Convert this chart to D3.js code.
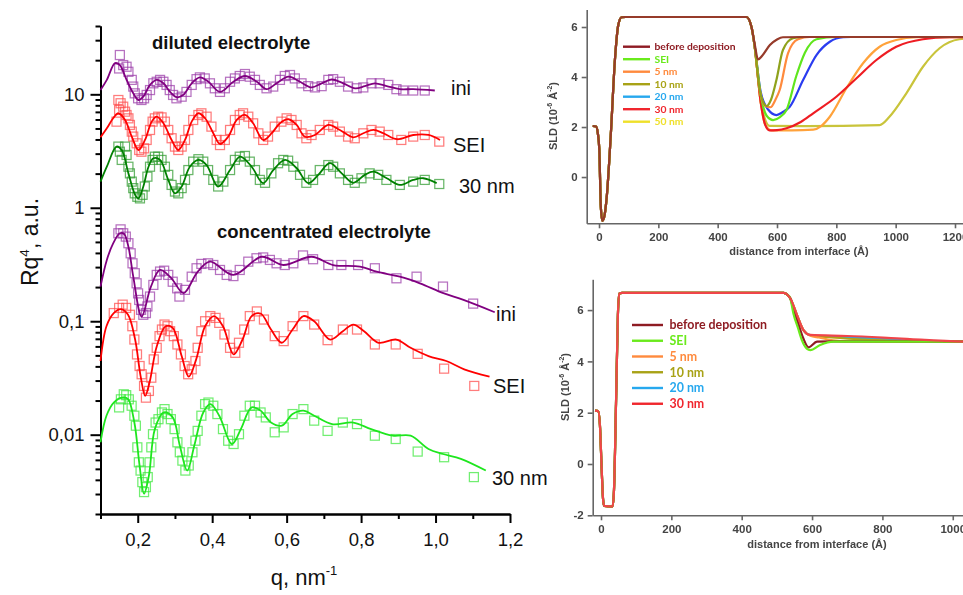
<!DOCTYPE html>
<html>
<head>
<meta charset="utf-8">
<script src="https://cdn.jsdelivr.net/npm/d3@7/dist/d3.min.js"></script>
<style>
  html, body { margin: 0; padding: 0; background: #fff; }
  svg { display: block; font-family: "Liberation Sans", Arial, sans-serif; }
</style>
</head>
<body>
<svg id="fig" width="963" height="595"></svg>
<script>
// ===== Reflectivity Rq^4 (a.u.) versus q (nm^-1) =====
// fitted curves: [q, Rq4]
const dilIniFit = [[0.100,10.9],[0.117,13.4],[0.139,18.8],[0.152,18.1],[0.170,13.4],[0.188,10.2],[0.202,8.91],[0.215,9.53],[0.233,12.1],[0.251,13.4],[0.269,12.5],[0.287,10.5],[0.305,9.42],[0.322,9.86],[0.345,12.5],[0.367,14.1],[0.390,12.9],[0.421,10.5],[0.457,12.9],[0.488,14.5],[0.520,12.9],[0.546,11.1],[0.573,12.5],[0.605,14.3],[0.636,12.9],[0.667,11.5],[0.694,12.5],[0.721,13.5],[0.752,12.5],[0.784,11.3],[0.810,11.8],[0.837,12.5],[0.869,11.8],[0.904,11.1],[0.940,11.1],[0.998,10.8]];
const dilSeiFit = [[0.100,4.18],[0.117,5.02],[0.134,6.15],[0.148,6.81],[0.166,5.94],[0.184,4.23],[0.202,3.23],[0.2195,3.96],[0.2375,5.74],[0.251,6.35],[0.269,5.56],[0.291,3.96],[0.309,3.23],[0.327,3.96],[0.345,5.74],[0.363,6.81],[0.381,6.15],[0.403,4.54],[0.421,3.65],[0.443,4.23],[0.466,5.94],[0.488,6.58],[0.510,5.56],[0.537,3.96],[0.560,4.54],[0.582,5.56],[0.605,6.03],[0.627,5.37],[0.649,4.23],[0.676,4.38],[0.712,5.37],[0.743,4.85],[0.779,4.18],[0.806,4.54],[0.833,4.85],[0.860,4.54],[0.896,4.02],[0.940,4.38],[0.981,4.38],[1.012,3.96]];
const dilThirtyFit = [[0.100,1.70],[0.117,2.30],[0.143,3.46],[0.157,3.23],[0.175,2.01],[0.193,1.30],[0.202,1.21],[0.215,1.54],[0.229,2.30],[0.242,2.73],[0.260,2.64],[0.282,1.76],[0.300,1.34],[0.318,1.54],[0.340,2.30],[0.363,2.64],[0.385,2.38],[0.416,1.54],[0.448,2.15],[0.475,2.82],[0.506,2.30],[0.537,1.65],[0.564,2.15],[0.596,2.64],[0.627,2.23],[0.658,1.65],[0.685,1.95],[0.716,2.47],[0.748,2.01],[0.779,1.66],[0.810,1.95],[0.833,2.08],[0.869,1.82],[0.904,1.59],[0.940,1.76],[0.967,1.82],[1.003,1.65]];
const concIniFit = [[0.100,0.202],[0.117,0.347],[0.134,0.486],[0.152,0.596],[0.163,0.590],[0.175,0.454],[0.188,0.247],[0.2106,0.110],[0.235,0.200],[0.260,0.283],[0.290,0.240],[0.323,0.177],[0.360,0.270],[0.394,0.335],[0.457,0.256],[0.533,0.370],[0.591,0.313],[0.667,0.370],[0.725,0.313],[0.797,0.303],[0.842,0.273],[0.904,0.247],[0.958,0.216],[1.021,0.177],[1.075,0.154],[1.159,0.120]];
const concSeiFit = [[0.100,0.0446],[0.116,0.0904],[0.1356,0.118],[0.155,0.128],[0.174,0.114],[0.193,0.069],[0.2076,0.033],[0.220,0.022],[0.2317,0.0288],[0.251,0.060],[0.275,0.0904],[0.294,0.0874],[0.318,0.0493],[0.337,0.0325],[0.357,0.0461],[0.381,0.0904],[0.405,0.111],[0.429,0.0904],[0.4575,0.051],[0.4815,0.069],[0.506,0.111],[0.530,0.117],[0.558,0.0845],[0.587,0.0646],[0.616,0.0845],[0.645,0.111],[0.674,0.100],[0.717,0.069],[0.751,0.0817],[0.779,0.0935],[0.808,0.0817],[0.847,0.0646],[0.895,0.069],[0.933,0.0583],[0.981,0.0493],[1.029,0.0446],[1.077,0.0377],[1.145,0.0325]];
const concThirtyFit = [[0.100,0.00858],[0.116,0.0147],[0.1356,0.0192],[0.160,0.0213],[0.174,0.0206],[0.191,0.0128],[0.205,0.00535],[0.217,0.00302],[0.230,0.00436],[0.246,0.0112],[0.270,0.0157],[0.294,0.0142],[0.313,0.00802],[0.333,0.00483],[0.352,0.00802],[0.376,0.0157],[0.395,0.0186],[0.419,0.0147],[0.453,0.00828],[0.477,0.0112],[0.506,0.0174],[0.530,0.0163],[0.558,0.0128],[0.587,0.0120],[0.616,0.0152],[0.645,0.0163],[0.674,0.0147],[0.722,0.0124],[0.779,0.0128],[0.827,0.0112],[0.885,0.0098],[0.933,0.0098],[0.981,0.00748],[1.020,0.00676],[1.068,0.00612],[1.135,0.00483]];

// measured points: [q, Rq4]
const dilIniPts = [[0.152,22.2],[0.150,16.9],[0.161,18.1],[0.170,17.5],[0.175,15.8],[0.184,13.4],[0.188,11.7],[0.192,10.2],[0.201,9.22],[0.210,8.91],[0.217,9.22],[0.224,9.87],[0.233,10.9],[0.242,12.5],[0.251,12.9],[0.260,13.4],[0.269,12.9],[0.2775,12.1],[0.286,10.9],[0.295,9.87],[0.304,9.22],[0.318,9.53],[0.331,10.5],[0.345,12.1],[0.358,13.6],[0.367,14.1],[0.380,13.8],[0.394,12.5],[0.407,11.3],[0.421,10.5],[0.434,11.3],[0.448,12.9],[0.461,13.8],[0.474,14.5],[0.488,15.1],[0.501,14.3],[0.515,13.4],[0.528,12.1],[0.546,11.3],[0.564,11.7],[0.582,13.4],[0.595,14.5],[0.609,14.8],[0.622,13.8],[0.640,12.5],[0.658,11.8],[0.676,11.5],[0.694,11.8],[0.712,13.4],[0.725,13.6],[0.743,12.9],[0.765,11.7],[0.788,11.3],[0.806,11.5],[0.828,12.5],[0.850,12.5],[0.873,12.1],[0.895,11.1],[0.913,10.8],[0.940,10.8],[0.971,10.8]];
const dilSeiPts = [[0.148,8.91],[0.150,7.28],[0.154,8.34],[0.161,7.78],[0.166,7.03],[0.170,6.57],[0.143,5.74],[0.175,6.14],[0.179,5.37],[0.184,4.69],[0.188,4.24],[0.197,3.70],[0.204,3.23],[0.210,3.12],[0.217,3.34],[0.224,3.96],[0.233,4.85],[0.240,5.74],[0.246,6.14],[0.255,6.35],[0.264,6.26],[0.273,5.74],[0.282,4.85],[0.291,4.10],[0.300,3.46],[0.309,3.23],[0.318,3.46],[0.327,3.96],[0.336,4.85],[0.349,5.94],[0.363,6.57],[0.371,6.80],[0.385,6.35],[0.398,5.19],[0.412,3.96],[0.421,3.57],[0.434,3.96],[0.448,4.85],[0.461,5.94],[0.474,6.57],[0.483,6.80],[0.497,6.35],[0.510,5.55],[0.524,4.53],[0.537,3.96],[0.550,4.24],[0.568,5.19],[0.586,5.74],[0.600,6.14],[0.613,5.94],[0.627,5.37],[0.640,4.53],[0.653,4.10],[0.667,4.38],[0.689,4.85],[0.712,5.37],[0.725,5.19],[0.743,4.69],[0.765,4.24],[0.783,4.10],[0.806,4.53],[0.828,4.85],[0.850,4.69],[0.873,4.38],[0.908,3.96],[0.940,4.24],[0.971,4.38],[1.010,3.83]];
const dilThirtyPts = [[0.148,3.46],[0.152,3.12],[0.157,2.64],[0.166,3.46],[0.170,2.92],[0.175,2.30],[0.179,2.01],[0.184,1.70],[0.188,1.49],[0.192,1.34],[0.199,1.25],[0.206,1.21],[0.213,1.30],[0.219,1.54],[0.226,1.88],[0.233,2.30],[0.240,2.64],[0.246,2.82],[0.255,2.82],[0.264,2.64],[0.273,2.30],[0.282,1.95],[0.291,1.59],[0.300,1.39],[0.309,1.34],[0.318,1.49],[0.327,1.76],[0.336,2.15],[0.349,2.55],[0.363,2.68],[0.376,2.55],[0.389,2.15],[0.403,1.76],[0.416,1.54],[0.430,1.70],[0.448,2.15],[0.461,2.64],[0.474,2.82],[0.488,2.86],[0.501,2.55],[0.515,2.15],[0.528,1.76],[0.542,1.66],[0.559,2.01],[0.577,2.47],[0.591,2.64],[0.604,2.60],[0.618,2.30],[0.636,1.95],[0.653,1.66],[0.671,1.76],[0.689,2.15],[0.712,2.38],[0.725,2.30],[0.743,2.01],[0.765,1.76],[0.783,1.66],[0.801,1.82],[0.823,2.01],[0.846,1.95],[0.868,1.76],[0.904,1.59],[0.940,1.70],[0.971,1.76],[1.010,1.62]];
const concIniPts = [[0.148,0.596],[0.154,0.645],[0.161,0.596],[0.168,0.557],[0.175,0.487],[0.181,0.397],[0.186,0.324],[0.192,0.265],[0.197,0.216],[0.201,0.176],[0.204,0.154],[0.209,0.126],[0.215,0.114],[0.222,0.118],[0.226,0.135],[0.233,0.165],[0.242,0.209],[0.251,0.256],[0.260,0.274],[0.271,0.279],[0.282,0.256],[0.294,0.223],[0.306,0.195],[0.312,0.165],[0.327,0.189],[0.345,0.247],[0.358,0.293],[0.371,0.320],[0.389,0.324],[0.403,0.313],[0.421,0.283],[0.439,0.256],[0.457,0.250],[0.474,0.283],[0.497,0.335],[0.519,0.359],[0.537,0.365],[0.555,0.347],[0.573,0.324],[0.595,0.313],[0.618,0.324],[0.644,0.380],[0.671,0.352],[0.712,0.313],[0.747,0.313],[0.792,0.313],[0.837,0.293],[0.895,0.239],[0.949,0.247],[1.020,0.202],[1.101,0.143]];
const concSeiPts = [[0.1356,0.118],[0.150,0.131],[0.1596,0.140],[0.169,0.131],[0.179,0.114],[0.1855,0.0904],[0.191,0.0690],[0.198,0.0510],[0.205,0.0403],[0.2105,0.0341],[0.217,0.0269],[0.222,0.0212],[0.230,0.0243],[0.2365,0.0318],[0.243,0.0461],[0.251,0.0583],[0.2586,0.0739],[0.265,0.0845],[0.272,0.0935],[0.280,0.0904],[0.287,0.0817],[0.297,0.0739],[0.3066,0.0624],[0.316,0.0510],[0.326,0.0403],[0.3355,0.0341],[0.345,0.0377],[0.355,0.0446],[0.361,0.0583],[0.371,0.0817],[0.381,0.1],[0.395,0.111],[0.409,0.107],[0.419,0.0967],[0.433,0.0764],[0.448,0.0583],[0.462,0.0527],[0.472,0.0646],[0.486,0.0845],[0.501,0.111],[0.520,0.122],[0.539,0.1035],[0.568,0.0739],[0.592,0.0668],[0.616,0.0904],[0.645,0.111],[0.674,0.0935],[0.710,0.0681],[0.751,0.0845],[0.789,0.0845],[0.837,0.0624],[0.893,0.0624],[0.952,0.0516],[1.023,0.0382],[1.104,0.0269]];
const concThirtyPts = [[0.150,0.0174],[0.1548,0.0205],[0.1625,0.0227],[0.169,0.0223],[0.176,0.0205],[0.1836,0.0180],[0.191,0.0147],[0.195,0.0120],[0.199,0.00774],[0.203,0.00571],[0.2076,0.00483],[0.2124,0.00382],[0.217,0.00312],[0.222,0.00345],[0.2269,0.00423],[0.2317,0.00571],[0.2365,0.00774],[0.241,0.0101],[0.248,0.0128],[0.2557,0.0137],[0.265,0.0157],[0.272,0.0168],[0.280,0.0152],[0.289,0.0137],[0.299,0.0112],[0.3066,0.00857],[0.313,0.00700],[0.320,0.00591],[0.328,0.00483],[0.337,0.00535],[0.347,0.00700],[0.355,0.00885],[0.361,0.0108],[0.371,0.0147],[0.381,0.0186],[0.390,0.0192],[0.403,0.0180],[0.414,0.0152],[0.429,0.0112],[0.443,0.00885],[0.4575,0.00828],[0.472,0.0101],[0.4865,0.0147],[0.501,0.0180],[0.515,0.0180],[0.530,0.0157],[0.544,0.0142],[0.568,0.0105],[0.592,0.0116],[0.616,0.0152],[0.645,0.0168],[0.674,0.0133],[0.710,0.0108],[0.751,0.0128],[0.789,0.0124],[0.837,0.0098],[0.893,0.00916],[0.952,0.00710],[1.023,0.00633],[1.103,0.00423]];

// axis ticks for the reflectivity panel
const qMajorTicks = [0.2, 0.4, 0.6, 0.8, 1.0, 1.2];
const qMinorTicks = [0.1, 0.3, 0.5, 0.7, 0.9, 1.1];
const rMajorTicks = [0.01, 0.1, 1, 10];
const rMajorLabels = ["0,01", "0,1", "1", "10"];

// ===== SLD profiles: [distance (Å), SLD (10^-6 Å^-2)] =====
const dilFilm = [[-21,2.04],[-10,2.02],[-4,1.75],[1,1.1],[6,-1.15],[11,-1.75],[17,-1.62],[26,-0.8],[40,1.75],[54,4.75],[65,6.08],[76,6.39],[90,6.4],[497,6.4],[514,6.0]];
const dilBefore = [[525,5.3],[536,4.7],[550,4.85],[576,5.28],[600,5.5],[620,5.59],[700,5.6],[1300,5.6]];
const dilSei = [[525,5.2],[545,3.3],[565,2.45],[587,2.28],[610,2.4],[632,2.68],[665,4.04],[694,4.97],[733,5.51],[800,5.6],[1300,5.6]];
const dil5 = [[525,5.2],[540,3.6],[560,2.85],[578,2.79],[595,3.1],[609,3.48],[637,4.95],[671,5.51],[710,5.6],[1300,5.6]];
const dil10 = [[525,5.2],[540,3.6],[555,2.95],[565,2.84],[580,3.1],[598,3.88],[620,5.08],[654,5.55],[690,5.6],[1300,5.6]];
const dil20 = [[525,5.2],[545,3.4],[570,2.7],[598,2.48],[620,2.6],[643,2.81],[688,3.88],[733,4.88],[778,5.41],[823,5.59],[850,5.6],[1300,5.6]];
const dil30 = [[525,5.2],[545,3.0],[560,2.1],[575,1.87],[600,1.88],[632,1.95],[680,2.2],[722,2.55],[800,3.21],[868,3.95],[935,4.68],[1002,5.21],[1092,5.51],[1182,5.59],[1300,5.6]];
const dil40 = [[525,5.2],[545,3.0],[560,2.1],[580,1.87],[650,1.87],[722,1.9],[750,2.05],[778,2.41],[834,3.55],[890,4.55],[946,5.21],[1002,5.48],[1070,5.59],[1300,5.6]];
const dil50 = [[525,5.2],[545,3.0],[560,2.3],[575,2.05],[700,2.04],[946,2.08],[979,2.41],[1036,3.35],[1092,4.41],[1148,5.15],[1215,5.51],[1300,5.58]];

const concFilm = [[-17,2.08],[-8,2.06],[-3,1.5],[2,-0.23],[6,-1.4],[9,-1.63],[33,-1.65],[37,-1.0],[42.7,2.37],[48,5.8],[52,6.65],[60,6.67],[519,6.67],[530,6.6],[538,6.46]];
const concBefore = [[548,6.0],[560,5.5],[575,4.9],[590,4.55],[614,4.77],[650,4.78],[1100,4.77]];
const concSei = [[547,5.87],[560,5.3],[571,4.83],[585,4.5],[595,4.44],[623,4.64],[661,4.77],[1100,4.77]];
const conc5 = [[557,5.81],[575.5,5.22],[595,5.0],[620,4.93],[660,4.82],[700,4.78],[1100,4.77]];
const conc10 = [[557,5.81],[575.5,5.22],[595,5.02],[640,4.95],[750,4.85],[870,4.78],[1100,4.77]];
const conc20 = [[557,5.81],[575.5,5.22],[595,5.03],[650,4.97],[800,4.88],[900,4.79],[1100,4.77]];
const conc30 = [[557,5.81],[575.5,5.22],[595,5.03],[700,4.99],[841,4.9],[1030,4.77],[1100,4.76]];

const sldTicksTop = [0, 2, 4, 6];
const sldTicksBottom = [-2, 0, 2, 4, 6];
const zTicksTop = [0, 200, 400, 600, 800, 1000, 1200];
const zTicksBottom = [0, 200, 400, 600, 800, 1000];

const legendTop = [
  {label: "before deposition", color: "#8e1b22"},
  {label: "SEI", color: "#6bea1c"},
  {label: "5 nm", color: "#ff8a3c"},
  {label: "10 nm", color: "#a8a214"},
  {label: "20 nm", color: "#27a8ee"},
  {label: "30 nm", color: "#f0262e"},
  {label: "50 nm", color: "#efe02a"}
];
const legendBottom = legendTop.slice(0, 6);

// ===================================================================
const svg = d3.select("#fig");

// ---------- reflectivity panel ----------
const xQ = d3.scaleLinear().domain([0.1, 1.2]).range([100.5, 510]);
const yR = d3.scaleLog().domain([0.002, 40]).range([514, 26]);

const left = svg.append("g");

const rMinor = [];
[0.001, 0.01, 0.1, 1, 10].forEach(dec => {
  for (let k = 2; k <= 9; k++) {
    const v = +(dec * k).toPrecision(3);
    if (v >= 0.002 && v <= 40) rMinor.push(v);
  }
});

function styleAxis(g, width) {
  g.select(".domain").attr("stroke", "#000").attr("stroke-width", width);
  g.selectAll(".tick line").attr("stroke", "#000").attr("stroke-width", width);
}

// minor ticks
left.append("g").attr("transform", "translate(100.5,0)")
  .call(d3.axisLeft(yR).tickValues(rMinor).tickSize(5).tickSizeOuter(0).tickFormat(""))
  .call(g => styleAxis(g, 2));
left.append("g").attr("transform", "translate(0,514)")
  .call(d3.axisBottom(xQ).tickValues(qMinorTicks).tickSize(5).tickSizeOuter(0).tickFormat(""))
  .call(g => styleAxis(g, 2));
// major ticks
left.append("g").attr("transform", "translate(100.5,0)")
  .call(d3.axisLeft(yR).tickValues(rMajorTicks).tickSize(10).tickSizeOuter(0).tickPadding(6)
        .tickFormat((d, i) => rMajorLabels[i]))
  .call(g => styleAxis(g, 2))
  .call(g => g.selectAll("text").attr("font-size", 18.5).attr("fill", "#111")
        .attr("font-family", "Liberation Sans, Arial, sans-serif"));
left.append("g").attr("transform", "translate(0,514)")
  .call(d3.axisBottom(xQ).tickValues(qMajorTicks).tickSize(9).tickSizeOuter(0).tickPadding(10)
        .tickFormat(d => d.toFixed(1).replace(".", ",")))
  .call(g => styleAxis(g, 2))
  .call(g => g.selectAll("text").attr("font-size", 18.5).attr("fill", "#111")
        .attr("font-family", "Liberation Sans, Arial, sans-serif"));

// axis titles
const yTitle = left.append("text")
  .attr("transform", "translate(38,242) rotate(-90)")
  .attr("text-anchor", "middle").attr("font-size", 23).attr("fill", "#111");
yTitle.append("tspan").text("Rq");
yTitle.append("tspan").attr("font-size", 13.5).attr("dy", -9.5).text("4");
yTitle.append("tspan").attr("dy", 9.5).text(", a.u.");

const xTitle = left.append("text")
  .attr("x", 304).attr("y", 585)
  .attr("text-anchor", "middle").attr("font-size", 22).attr("fill", "#111");
xTitle.append("tspan").text("q, nm");
xTitle.append("tspan").attr("font-size", 13).attr("dy", -10).text("-1");

const line = d3.line()
  .x(d => xQ(d[0])).y(d => yR(d[1]))
  .curve(d3.curveCatmullRom.alpha(0.5));

const series = [
  {pts: dilIniPts, fit: dilIniFit, color: "#800080", sq: "#9a3aa8"},
  {pts: dilSeiPts, fit: dilSeiFit, color: "#ff0000", sq: "#ff4a4a"},
  {pts: dilThirtyPts, fit: dilThirtyFit, color: "#008000", sq: "#2e9a2e"},
  {pts: concIniPts, fit: concIniFit, color: "#800080", sq: "#9a3aa8"},
  {pts: concSeiPts, fit: concSeiFit, color: "#ff0000", sq: "#ff4a4a"},
  {pts: concThirtyPts, fit: concThirtyFit, color: "#1ee61e", sq: "#3ae83a"}
];

const sqSize = 9;
series.forEach(s => {
  left.append("g").selectAll("rect").data(s.pts).join("rect")
    .attr("x", d => xQ(d[0]) - sqSize / 2)
    .attr("y", d => yR(d[1]) - sqSize / 2)
    .attr("width", sqSize).attr("height", sqSize)
    .attr("fill", "none").attr("stroke", s.sq)
    .attr("stroke-opacity", 0.72).attr("stroke-width", 1.25);
  left.append("path").datum(s.fit).attr("d", line)
    .attr("fill", "none").attr("stroke", s.color).attr("stroke-width", 1.8);
});

// panel annotations
const ann = [
  {t: "diluted electrolyte", x: 152, y: 49, bold: true},
  {t: "concentrated electrolyte", x: 217, y: 238, bold: true},
  {t: "ini", x: 451, y: 95},
  {t: "SEI", x: 453, y: 152},
  {t: "30 nm", x: 459, y: 193},
  {t: "ini", x: 496, y: 321},
  {t: "SEI", x: 493, y: 393},
  {t: "30 nm", x: 492, y: 485}
];
left.selectAll("text.ann").data(ann).join("text").attr("class", "ann")
  .attr("x", d => d.x).attr("y", d => d.y)
  .attr("font-size", d => d.bold ? 18.5 : 20)
  .attr("font-weight", d => d.bold ? "bold" : "normal")
  .attr("fill", "#111").text(d => d.t);

// ---------- SLD panels ----------
const soft = svg.append("defs").append("filter").attr("id", "soft");
soft.append("feGaussianBlur").attr("stdDeviation", 0.45);

function sldPanel(cfg) {
  const g = svg.append("g").attr("filter", "url(#soft)");
  const x = d3.scaleLinear().domain(cfg.xDomain).range(cfg.xRange);
  const y = d3.scaleLinear().domain(cfg.yDomain).range(cfg.yRange);
  const axisColor = "#666";
  const fmt = d => String(d);

  g.append("g").attr("transform", `translate(0,${cfg.yRange[0]})`)
    .call(d3.axisBottom(x).tickValues(cfg.xTicks).tickFormat(fmt).tickSize(5).tickSizeOuter(0).tickPadding(5))
    .call(a => {
      a.select(".domain").attr("stroke", axisColor).attr("stroke-width", 1.6);
      a.selectAll(".tick line").attr("stroke", axisColor).attr("stroke-width", 1.6);
      a.selectAll("text").attr("font-size", 11.5).attr("font-weight", "bold")
        .attr("fill", "#444").attr("font-family", "Liberation Sans, Arial, sans-serif");
    });
  g.append("g").attr("transform", `translate(${cfg.xRange[0]},0)`)
    .call(d3.axisLeft(y).tickValues(cfg.yTicks).tickFormat(fmt).tickSize(5).tickSizeOuter(0).tickPadding(4))
    .call(a => {
      a.select(".domain").attr("stroke", axisColor).attr("stroke-width", 1.6);
      a.selectAll(".tick line").attr("stroke", axisColor).attr("stroke-width", 1.6);
      a.selectAll("text").attr("font-size", 11.5).attr("font-weight", "bold")
        .attr("fill", "#444").attr("font-family", "Liberation Sans, Arial, sans-serif");
    });

  const yl = g.append("text")
    .attr("transform", `translate(${cfg.yTitleX},${cfg.yTitleY}) rotate(-90)`)
    .attr("text-anchor", "middle").attr("font-size", 11).attr("font-weight", "bold").attr("fill", "#444");
  yl.append("tspan").text("SLD (10");
  yl.append("tspan").attr("font-size", 7).attr("dy", -5).text("-6");
  yl.append("tspan").attr("dy", 5).text(" Å");
  yl.append("tspan").attr("font-size", 7).attr("dy", -5).text("-2");
  yl.append("tspan").attr("dy", 5).text(")");

  g.append("text").attr("x", cfg.xTitleX).attr("y", cfg.xTitleY)
    .attr("text-anchor", "middle").attr("font-size", 11).attr("font-weight", "bold")
    .attr("fill", "#444").text("distance from interface (Å)");

  const pl = d3.line().x(d => x(d[0])).y(d => y(d[1])).curve(d3.curveMonotoneX);
  cfg.curves.forEach(c => {
    g.append("path").datum(cfg.film.concat(c.tail)).attr("d", pl)
      .attr("fill", "none").attr("stroke", c.color).attr("stroke-width", 2.2)
      .attr("stroke-linejoin", "round");
  });

  const lg = g.append("g");
  cfg.legend.forEach((d, i) => {
    const yy = cfg.legY + i * cfg.legStep;
    lg.append("line").attr("x1", cfg.legX).attr("x2", cfg.legX + cfg.legLen)
      .attr("y1", yy).attr("y2", yy).attr("stroke", d.color).attr("stroke-width", 2.4);
    lg.append("text").attr("x", cfg.legX + cfg.legLen + cfg.legGap).attr("y", yy + cfg.legFont * 0.36)
      .attr("font-family", "Lato, 'Open Sans', sans-serif").attr("font-weight", "bold")
      .attr("font-size", cfg.legFont).attr("fill", d.color).text(d.label);
  });
}

// diluted electrolyte profiles
sldPanel({
  xDomain: [-41.5, 1230], xRange: [586.7, 963.9],
  yDomain: [-1.85, 6.7], yRange: [223.3, 9.5],
  xTicks: zTicksTop, yTicks: sldTicksTop,
  film: dilFilm,
  curves: [
    {tail: dil50, color: "#c9c43a"},
    {tail: dil40, color: "#ffa23a"},
    {tail: dil30, color: "#ee1c24"},
    {tail: dil20, color: "#2a3cf0"},
    {tail: dilSei, color: "#5fe61c"},
    {tail: dil5, color: "#ff8a3c"},
    {tail: dil10, color: "#8fa21c"},
    {tail: dilBefore, color: "#963a2a"}
  ],
  legend: legendTop, legX: 623, legLen: 27, legGap: 4.5, legY: 46.7, legStep: 12.5, legFont: 10.3,
  yTitleX: 557, yTitleY: 116, xTitleX: 799, xTitleY: 255
});

// concentrated electrolyte profiles
sldPanel({
  xDomain: [-23.6, 1030], xRange: [592.7, 963.3],
  yDomain: [-2, 7.2], yRange: [515.3, 279.3],
  xTicks: zTicksBottom, yTicks: sldTicksBottom,
  film: concFilm,
  curves: [
    {tail: conc20, color: "#27a8ee"},
    {tail: conc10, color: "#b0a414"},
    {tail: conc5, color: "#ff9a3c"},
    {tail: concBefore, color: "#8e1b22"},
    {tail: concSei, color: "#6bea1c"},
    {tail: conc30, color: "#f0444a"}
  ],
  legend: legendBottom, legX: 632, legLen: 31, legGap: 6.5, legY: 325, legStep: 15.75, legFont: 12.4,
  yTitleX: 569, yTitleY: 387, xTitleX: 817, xTitleY: 548
});
</script>
</body>
</html>
